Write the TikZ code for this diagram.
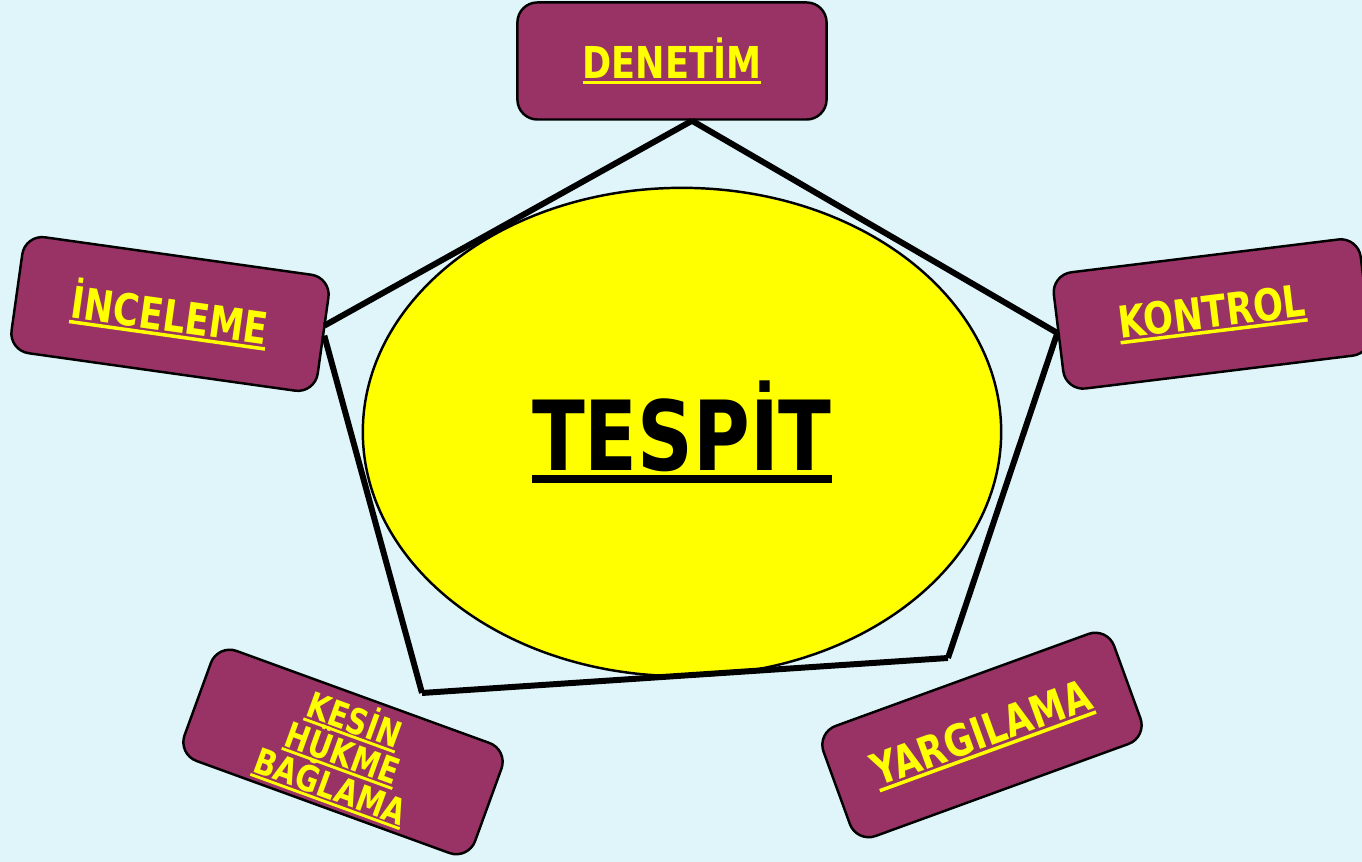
\documentclass[tikz,border=0pt]{standalone}
\usepackage{fontspec}
\setmainfont[FakeStretch=0.8]{DejaVu Sans}
\usetikzlibrary{shapes.geometric}
\definecolor{arkaplan}{HTML}{DFF5FA}
\definecolor{mor}{HTML}{993366}
\definecolor{sari}{HTML}{FFFF00}
\newcommand{\alticizgili}[1]{\leavevmode\setbox0=\hbox{#1}\rlap{\vrule width\wd0 height -0.05em depth 0.13em}\box0}
\tikzset{kutu/.style={draw=black,line width=0.7pt,fill=mor,rounded corners=0.2cm,
  minimum width=3.09cm,minimum height=1.17cm,text=sari,
  font=\fontsize{12.5pt}{14pt}\selectfont\bfseries,align=center}}
\tikzset{kenar/.style={line width=1.7pt}}
\begin{document}
\begin{tikzpicture}[x=0.01cm,y=-0.01cm]
\fill[arkaplan] (0,0) rectangle (1362,862);
\useasboundingbox (0,0) rectangle (1362,862);
%
{
\node (tespit) [ellipse,draw=black,line width=0.7pt,fill=sari,minimum width=6.38cm,minimum height=4.88cm,inner sep=0pt,
  font=\fontsize{27.5pt}{30pt}\selectfont\bfseries] at (682,432) {\alticizgili{TESPİT}};
}
%
{
\node (denetim) [kutu] at (672,61) {\alticizgili{DENETİM}};
\node (inceleme) [kutu,rotate=-8] at (170,314) {\alticizgili{İNCELEME}};
\node (kontrol) [kutu,rotate=7] at (1212,314) {\alticizgili{KONTROL}};
\node (hukme) [kutu,rotate=-20,inner sep=0pt,font=\fontsize{10.2pt}{10pt}\selectfont\bfseries,
  execute at begin node={\lineskiplimit=-20pt}] at (343,752)
  {\alticizgili{KESİN}\\\alticizgili{HÜKME}\\\alticizgili{BAĞLAMA}};
\node (yargilama) [kutu,rotate=20] at (982,735) {\alticizgili{YARGILAMA}};
}
%
{
\coordinate (solkose) at (422,693);
\coordinate (sagkose) at (948,658);
\path[kenar] ([xshift=0.2cm]denetim.south) edge ([yshift=0.1cm]inceleme.east);
\path[kenar] ([xshift=0.2cm]denetim.south) edge (kontrol.west);
\path[kenar] (inceleme.east) edge (solkose);
\path[kenar] (solkose) edge (sagkose);
\path[kenar] (sagkose) edge (kontrol.west);
}
\end{tikzpicture}
\end{document}
